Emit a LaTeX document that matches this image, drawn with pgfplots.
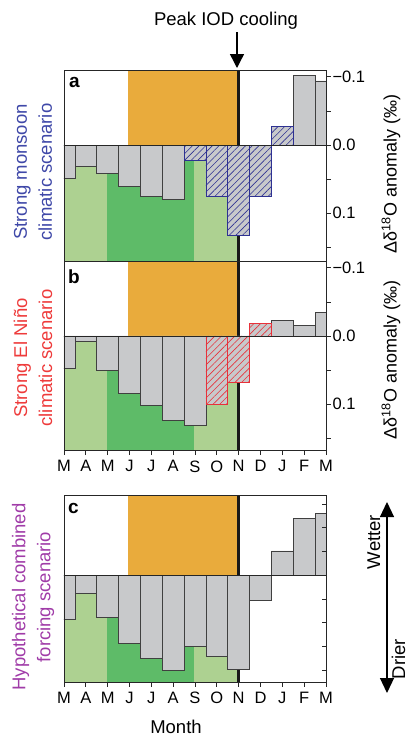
\documentclass[border=0pt]{standalone}
\usepackage{fontspec}
\setmainfont{Liberation Sans}
\usepackage{pgfplots}
\pgfplotsset{compat=1.18}
\usetikzlibrary{patterns.meta,arrows.meta}

\definecolor{orangeC}{HTML}{E9AB3C}
\definecolor{lgreen}{HTML}{ADD191}
\definecolor{dgreen}{HTML}{5EBB68}
\definecolor{grayC}{HTML}{C8C9CB}
\definecolor{blueH}{HTML}{2E3192}
\definecolor{redH}{HTML}{E8313A}
\definecolor{blueT}{HTML}{3F48A8}
\definecolor{redT}{HTML}{EE3B3B}
\definecolor{purpleT}{HTML}{A03CA8}

\pgfplotsset{
  panel/.style={
    scale only axis, width=262pt, anchor=north west,
    xmin=0, xmax=12, y dir=reverse, axis on top,
    axis line style={black!85, line width=0.8pt},
    tick style={black!85, line width=0.7pt},
    major tick length=4.5pt, minor tick length=4.5pt,
    tick align=outside,
    ytick pos=right, yticklabel pos=right, xtick pos=left,
    ticklabel style={font=\fontsize{16.5}{18}\selectfont},
    yticklabel style={xshift=-1.5pt},
    xticklabel style={yshift=-2pt},
  },
  months/.style={xtick={0,...,12}, xticklabels={M,A,M,J,J,A,S,O,N,D,J,F,M}},
  bars/.style={ybar, bar width=1, bar shift=0pt, fill=grayC, draw=black!75, line width=0.8pt},
  hatch/.style={bars, draw=#1,
    postaction={pattern={Lines[angle=45,distance=4.7pt,line width=0.6pt]}, pattern color=#1}},
}

% month index 0 = March ... 12 = March
\newcommand{\backdrop}{%
  \addplot[draw=none, fill=lgreen] coordinates {(0,0) (0,1) (1.95,1) (1.95,0)};
  \addplot[draw=none, fill=dgreen] coordinates {(1.95,0) (1.95,1) (5.97,1) (5.97,0)};
  \addplot[draw=none, fill=lgreen] coordinates {(5.97,0) (5.97,1) (8,1) (8,0)};
  \addplot[draw=none, fill=orangeC] coordinates {(2.95,0) (2.95,-1) (8,-1) (8,0)};
  \addplot[black!90, line width=3.6pt] coordinates {(8,-1) (8,1)};
}
\newcommand{\zeroline}{\addplot[black!85, line width=0.8pt] coordinates {(0,0) (12,0)};}

\begin{document}
\begin{tikzpicture}
\useasboundingbox (0,0) rectangle (409pt,-737pt);

% a: strong monsoon
\begin{axis}[panel, at={(64pt,-70pt)}, height=191pt,
  ymin=-0.11, ymax=0.17, xtick=\empty,
  ytick={-0.1,0,0.1}, yticklabels={−0.1,0.0,0.1}, minor ytick={-0.05,0.05,0.15}]
\backdrop
\addplot[bars] coordinates {(0,0.049) (1,0.032) (2,0.0415) (3,0.061) (4,0.0756) (5,0.0795) (11,-0.1024) (12,-0.094)};
\addplot[hatch=blueH] coordinates {(6,0.023) (7,0.0756) (8,0.133) (9,0.0756) (10,-0.0268)};
\zeroline
\end{axis}

% b: strong El Nino
\begin{axis}[panel, months, at={(64pt,-261pt)}, height=189.5pt,
  ymin=-0.11, ymax=0.168,
  ytick={-0.1,0,0.1}, yticklabels={−0.1,0.0,0.1}, minor ytick={-0.05,0.05,0.15}]
\backdrop
\addplot[bars] coordinates {(0,0.047) (1,0.0084) (2,0.0505) (3,0.084) (4,0.1025) (5,0.1238) (6,0.131) (10,-0.0233) (11,-0.0158) (12,-0.0346)};
\addplot[hatch=redH] coordinates {(7,0.1) (8,0.068) (9,-0.019)};
\zeroline
\end{axis}

% c: combined forcing
\begin{axis}[panel, months, at={(64pt,-495pt)}, height=187pt,
  ymin=-0.169, ymax=0.2254,
  ytick={-0.15,-0.1,-0.05,0,0.05,0.1,0.15,0.2}, yticklabel=\empty,
  ytick style={xshift=-4.5pt}]
\backdrop
\addplot[bars] coordinates {(0,0.0937) (1,0.0387) (2,0.090) (3,0.143) (4,0.176) (5,0.201) (6,0.151) (7,0.171) (8,0.198) (9,0.054) (10,-0.051) (11,-0.120) (12,-0.130)};
\zeroline
\end{axis}

\node[anchor=base west, inner sep=0, font=\bfseries\fontsize{19}{20}\selectfont] at (69pt,-87.5pt) {a};
\node[anchor=base west, inner sep=0, font=\bfseries\fontsize{19}{20}\selectfont] at (68pt,-283pt) {b};
\node[anchor=base west, inner sep=0, font=\bfseries\fontsize{19}{20}\selectfont] at (68pt,-513pt) {c};

\node[font=\fontsize{18.5}{22}\selectfont] at (226pt,-21pt) {Peak IOD cooling};
\draw[line width=1.4pt, -{Triangle[width=14pt,length=14pt]}] (237pt,-32pt) -- (237pt,-68pt);

\node[rotate=90, align=center, text=blueT, font=\fontsize{18.5}{25}\selectfont] at (33pt,-172pt) {Strong monsoon\\climatic scenario};
\node[rotate=90, align=center, text=redT, font=\fontsize{18.5}{25}\selectfont] at (33pt,-358pt) {Strong El Niño\\climatic scenario};
\node[rotate=90, align=center, text=purpleT, font=\fontsize{18.5}{25}\selectfont] at (33pt,-597pt) {Hypothetical combined\\forcing scenario};

\node[rotate=90, font=\fontsize{18}{20}\selectfont] at (391pt,-174pt) {Δδ\textsuperscript{18}O anomaly (‰)};
\node[rotate=90, font=\fontsize{18}{20}\selectfont] at (391pt,-360pt) {Δδ\textsuperscript{18}O anomaly (‰)};

\draw[line width=1.2pt, {Triangle[width=14pt,length=15pt]}-{Triangle[width=14pt,length=15pt]}] (387pt,-502pt) -- (387pt,-693pt);
\node[rotate=90, anchor=base, inner sep=0, font=\fontsize{18.5}{22}\selectfont] at (380pt,-542pt) {Wetter};
\node[rotate=90, anchor=base, inner sep=0, font=\fontsize{18.5}{22}\selectfont] at (405pt,-659pt) {Drier};

\node[anchor=base, inner sep=0, font=\fontsize{18.5}{22}\selectfont] at (176pt,-733pt) {Month};
\end{tikzpicture}
\end{document}
